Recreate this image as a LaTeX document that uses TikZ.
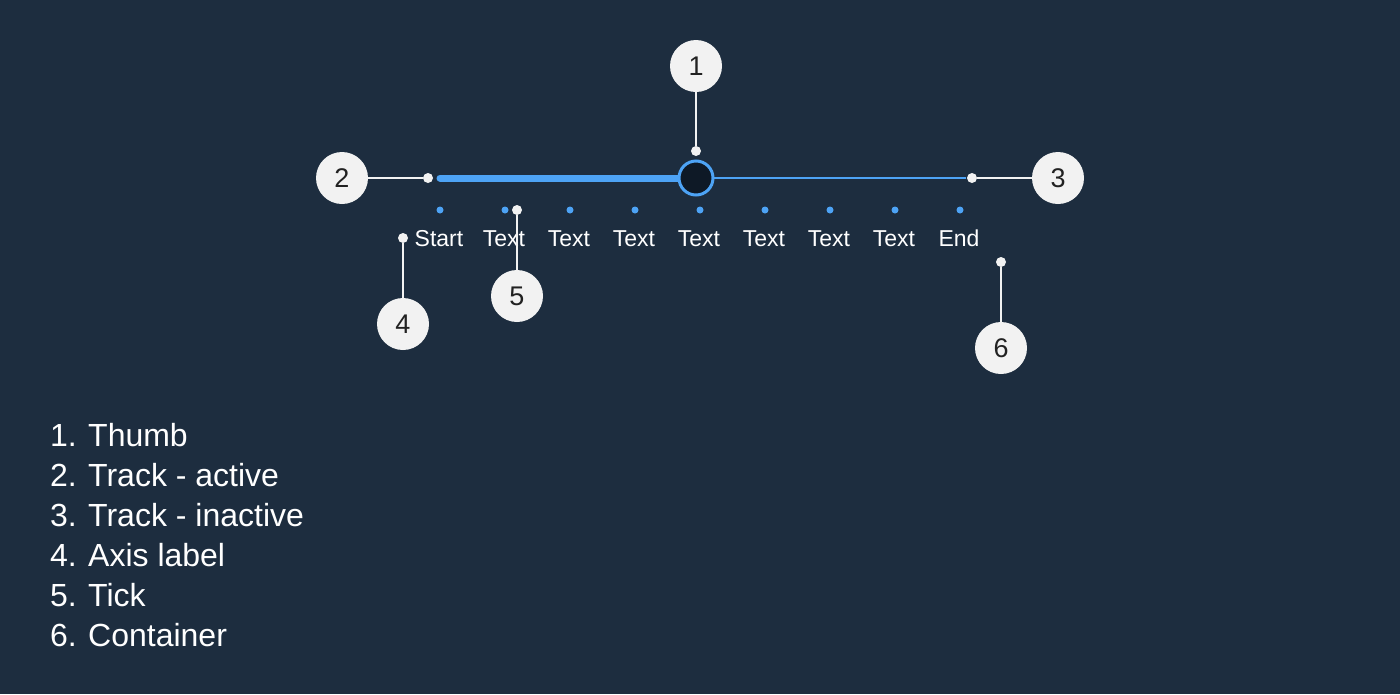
\documentclass[tikz,border=0pt]{standalone}
\usepackage{fontspec}
\setmainfont{Liberation Sans}
\definecolor{bg}{HTML}{1D2D3F}
\definecolor{sblue}{HTML}{4DA3F5}
\definecolor{callfill}{HTML}{F2F2F2}
\definecolor{callink}{HTML}{222222}
\definecolor{thumbin}{HTML}{0E1926}
\begin{document}
\begin{tikzpicture}[x=1pt,y=-1pt,
  callout/.style={circle,fill=callfill,text=callink,minimum size=52pt,inner sep=0pt,font=\fontsize{27}{27}\selectfont},
  pin/.style={circle,fill=callfill,minimum size=10pt,inner sep=0pt},
  leader/.style={draw=callfill,line width=1.6pt},
  tickdot/.style={circle,fill=sblue,minimum size=7pt,inner sep=0pt},
  axlabel/.style={text=white,font=\fontsize{23}{23}\selectfont,anchor=base,inner sep=0pt},
  listnum/.style={text=white,font=\fontsize{32}{32}\selectfont,anchor=base west,inner sep=0pt},
  listitem/.style={text=white,font=\fontsize{32}{32}\selectfont,anchor=base west,inner sep=0pt}]
\fill[bg] (0,0) rectangle (1400,694);
\useasboundingbox (0,0) rectangle (1400,694);
% tracks
\coordinate (tstart) at (440,178);
\coordinate (tend) at (966,178);
\draw[sblue,line width=7pt,line cap=round] (tstart) -- (690,178);
\draw[sblue,line width=2pt] (700,178) -- (tend);
\node[circle,draw=sblue,line width=3pt,fill=thumbin,minimum size=34pt,inner sep=0pt] (thumb) at (696,178) {};
% ticks
\foreach \i/\x in {0/440,1/505,2/570,3/635,4/700,5/765,6/830,7/895,8/960}
  \node[tickdot] (tk\i) at (\x,210) {};
% axis labels
\node[axlabel] (l0) at (439,246) {Start};
\foreach \i/\x in {1/504,2/569,3/634,4/699,5/764,6/829,7/894}
  \node[axlabel] (l\i) at (\x,246) {Text};
\node[axlabel] (l8) at (959,246) {End};
% callouts
\node[callout] (c1) at (696,66) {1};
\node[callout] (c2) at (342,178) {2};
\node[callout] (c3) at (1058,178) {3};
\node[callout] (c4) at (403,324) {4};
\node[callout] (c5) at (517,296) {5};
\node[callout] (c6) at (1001,348) {6};
\node[pin] (p1) at (696,151) {};
\node[pin] (p2) at (428,178) {};
\node[pin] (p3) at (972,178) {};
\node[pin] (p4) at (403,238) {};
\node[pin] (p5) at (517,210) {};
\node[pin] (p6) at (1001,262) {};
\draw[leader] (c1) -- (p1);
\draw[leader] (c2) -- (p2);
\draw[leader] (c3) -- (p3);
\draw[leader] (c4) -- (p4);
\draw[leader] (c5) -- (p5);
\draw[leader] (c6) -- (p6);
% legend
\foreach \n/\t/\y in {1/Thumb/446,2/Track - active/486,3/Track - inactive/526,4/Axis label/566,5/Tick/606,6/Container/646}{
  \node[listnum] (n\n) at (50,\y) {\n.};
  \node[listitem] (i\n) at (88,\y) {\t};
}
\end{tikzpicture}
\end{document}
